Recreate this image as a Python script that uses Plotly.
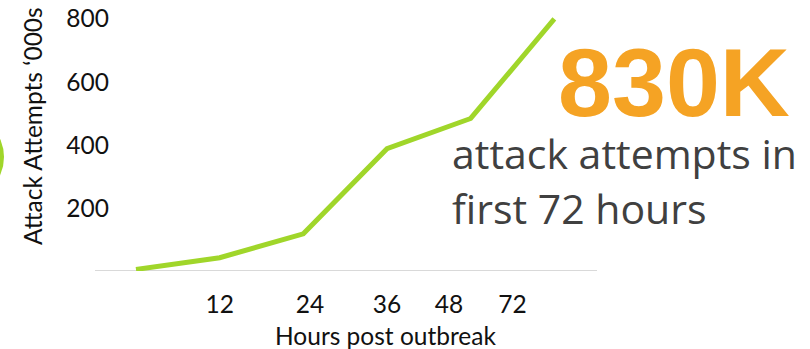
import plotly.graph_objects as go

# Data
x_idx = [0, 1, 2, 3, 4, 5]
attempts = [5, 42, 118, 388, 484, 800]
tick_pos = [1.0, 2.08, 3.0, 3.74, 4.5]
tick_text = ["12", "24", "36", "48", "72"]
y_ticks = [200, 400, 600, 800]

GREEN = "#A0D62A"
ORANGE = "#F5A324"
DARK = "#404040"

W, H = 810, 349
L, R, T, B = 118, 213, 0, 78
plot_w = W - L - R
plot_h = H - T - B

fig = go.Figure()
fig.add_trace(go.Scatter(
    x=x_idx, y=attempts, mode="lines",
    line=dict(color=GREEN, width=5), hoverinfo="skip", showlegend=False,
    cliponaxis=False,
))

tick_font = dict(family="Lato, Open Sans, sans-serif", size=24.5, color="#111111")

fig.update_layout(
    width=W, height=H,
    margin=dict(l=L, r=R, t=T, b=B, pad=0),
    paper_bgcolor="white", plot_bgcolor="white",
    showlegend=False,
    xaxis=dict(range=[-0.215, 5.51], tickvals=tick_pos, ticktext=tick_text,
               showgrid=False, zeroline=False, showline=False, ticks="",
               tickfont=tick_font, ticklabelstandoff=16, fixedrange=True),
    yaxis=dict(range=[0, 860], tickvals=y_ticks, showgrid=False, zeroline=False,
               showline=False, ticks="", tickfont=tick_font, ticklabelstandoff=8,
               fixedrange=True),
)

# baseline
fig.add_shape(type="line", xref="paper", yref="y",
              x0=(95 - L) / plot_w, x1=(597 - L) / plot_w, y0=0, y1=0,
              line=dict(color="#D9D9D9", width=2), layer="below")

# partial green circle at left edge
fig.add_shape(type="circle", xref="paper", yref="paper",
              x0=(-84 - L) / plot_w, x1=(4 - L) / plot_w,
              y0=(H - B - 201) / plot_h, y1=(H - B - 113) / plot_h,
              fillcolor=GREEN, line=dict(width=0), layer="below")

# axis titles
fig.add_annotation(text="Attack Attempts ‘000s", textangle=-90,
                   xref="paper", yref="paper",
                   x=(32 - L) / plot_w, y=(H - B - 126) / plot_h,
                   xanchor="center", yanchor="middle", showarrow=False,
                   font=tick_font)
fig.add_annotation(text="Hours post outbreak",
                   xref="paper", yref="paper",
                   x=(385 - L) / plot_w, y=(H - B - 335) / plot_h,
                   xanchor="center", yanchor="middle", showarrow=False,
                   font=tick_font)

# callout
fig.add_annotation(text="<b>830K</b>", xref="paper", yref="paper",
                   x=(556 - L) / plot_w, y=(H - B - 83) / plot_h,
                   xanchor="left", yanchor="middle", showarrow=False,
                   font=dict(family="Liberation Sans, Arial, sans-serif", size=97, color=ORANGE))
fig.add_annotation(text="attack attempts in", xref="paper", yref="paper",
                   x=(450 - L) / plot_w, y=(H - B - 153) / plot_h,
                   xanchor="left", yanchor="middle", showarrow=False,
                   font=dict(family="Open Sans, sans-serif", size=41, color=DARK))
fig.add_annotation(text="first 72 hours", xref="paper", yref="paper",
                   x=(450 - L) / plot_w, y=(H - B - 208) / plot_h,
                   xanchor="left", yanchor="middle", showarrow=False,
                   font=dict(family="Open Sans, sans-serif", size=41, color=DARK))

fig.write_html("out.html")
